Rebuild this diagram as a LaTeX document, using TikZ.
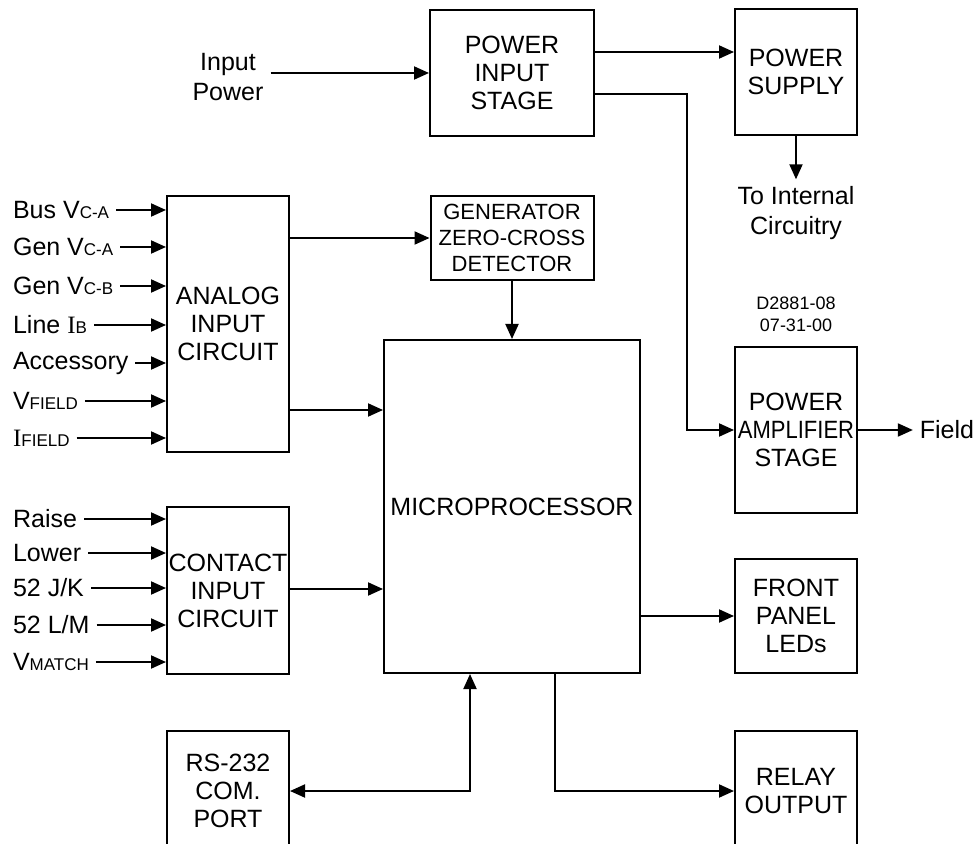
\documentclass[tikz,border=0pt]{standalone}
\usepackage{fontspec}
\setmainfont{Liberation Sans}
\newfontfamily\romanI{Liberation Serif}
\usetikzlibrary{arrows.meta}
\newcommand{\lowtxt}[1]{{\fontsize{8.5}{10}\selectfont #1}}

\begin{document}
\begin{tikzpicture}[x=0.5pt, y=-0.5pt,
    blk/.style={draw, line width=1pt, align=center, inner sep=0pt, font=\fontsize{12.5}{14}\selectfont},
    lbl/.style={anchor=west, font=\fontsize{12.5}{14}\selectfont},
    arr/.style={-{Triangle[length=7.5pt,width=6.5pt]}, line width=1pt}]
        \useasboundingbox (0,0) rectangle (979,844);
        \clip (0,0) rectangle (979,844);
        % blocks
        \node[blk, minimum width=82pt, minimum height=63pt] (stage) at (512,73) {POWER\\INPUT\\STAGE};
        \node[blk, minimum width=61pt, minimum height=63pt] (supply) at (796,72) {POWER\\SUPPLY};
        \node[blk, minimum width=81.5pt, minimum height=42pt, font=\fontsize{11}{13}\selectfont] (gen) at (512,238) {GENERATOR\\ZERO-CROSS\\DETECTOR};
        \node[blk, minimum width=61pt, minimum height=128pt] (analog) at (228,324) {ANALOG\\INPUT\\CIRCUIT};
        \node[blk, minimum width=128pt, minimum height=166.5pt] (micro) at (512,506.5) {MICROPROCESSOR};
        \node[blk, minimum width=61pt, minimum height=83.5pt] (contact) at (228,590.5) {CONTACT\\INPUT\\CIRCUIT};
        \node[blk, minimum width=61pt, minimum height=82.5pt] (amp) at (796,430) {POWER\\\scalebox{0.88}[1]{AMPLIFIER}\\STAGE};
        \node[blk, minimum width=61pt, minimum height=57pt] (panel) at (796,616) {FRONT\\PANEL\\LEDs};
        \node[blk, minimum width=61pt, minimum height=60pt] (relay) at (796,791) {RELAY\\OUTPUT};
        \node[blk, minimum width=61pt, minimum height=60pt] (rs) at (228,791) {RS-232\\COM.\\PORT};
        % texts
        \node[align=center, font=\fontsize{12.5}{15}\selectfont] (inpow) at (228,77) {Input\\Power};
        \node[align=center, font=\fontsize{12.5}{15}\selectfont] (internal) at (796,213) {To Internal\\Circuitry};
        \node[align=center, font=\fontsize{9}{11}\selectfont] (dwg) at (796,314) {D2881-08\\07-31-00};
        \node[font=\fontsize{12.5}{14}\selectfont] (field) at (947,430) {Field};
        % analog inputs
        \foreach \nm/\yy/\txt in {a1/210/{Bus V\lowtxt{C-A}}, a2/247/{Gen V\lowtxt{C-A}},
            a3/286/{Gen V\lowtxt{C-B}}, a4/325/{Line {\romanI I}\lowtxt{B}}, a5/363/{Accessory},
            a6/401/{V\lowtxt{FIELD}}, a7/438/{{\romanI I}\lowtxt{FIELD}}}
        {
            \node[lbl] (in\nm) at (6,\yy) {\txt};
            \draw[arr] (in\nm.east) -- (analog.west |- in\nm.east);
        }
        % contact inputs
        \foreach \nm/\yy/\txt in {c1/519/{Raise}, c2/553/{Lower}, c3/588/{52 J/K},
            c4/625/{52 L/M}, c5/662/{V\lowtxt{MATCH}}}
        {
            \node[lbl] (in\nm) at (6,\yy) {\txt};
            \draw[arr] (in\nm.east) -- (contact.west |- in\nm.east);
        }
        % connectors
        \coordinate (bend) at (687,430);
        \draw[arr] (inpow.east |- stage.west) -- (stage.west);
        \draw[arr] (stage.east |- 0,52) -- (supply.west |- 0,52);
        \draw[arr] (stage.east |- 0,94) -| (bend) -- (amp.west);
        \draw[arr] (supply.south) -- (internal.north);
        \draw[arr] (amp.east) -- (field.west);
        \draw[arr] (analog.east |- gen.west) -- (gen.west);
        \draw[arr] (analog.east |- 0,410) -- (micro.west |- 0,410);
        \draw[arr] (gen.south) -- (micro.north);
        \draw[arr] (contact.east |- 0,589) -- (micro.west |- 0,589);
        \draw[arr] (micro.east |- panel.west) -- (panel.west);
        \draw[arr] (micro.south -| 555,0) |- (relay.west);
        \draw[arr, {Triangle[length=7.5pt,width=6.5pt]}-{Triangle[length=7.5pt,width=6.5pt]}] (rs.east) -| (micro.south -| 470,0);
    \end{tikzpicture}
\end{document}
